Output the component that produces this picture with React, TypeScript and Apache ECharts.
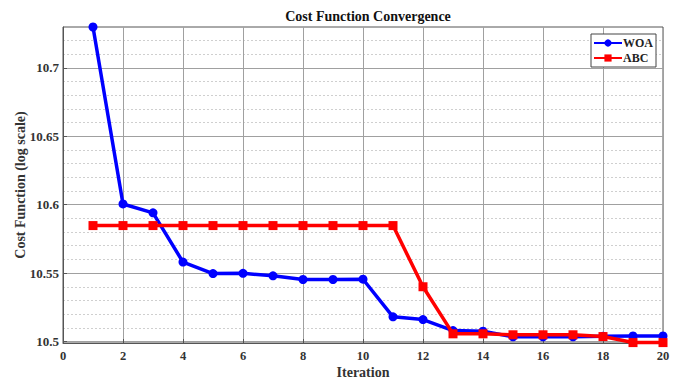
import React, { useEffect, useRef } from "react";
import * as echarts from "echarts";

const iterations = [1, 2, 3, 4, 5, 6, 7, 8, 9, 10, 11, 12, 13, 14, 15, 16, 17, 18, 19, 20];
const woaCost = [
  10.7298, 10.6005, 10.594, 10.558, 10.5496, 10.5498, 10.548, 10.5453, 10.5453, 10.5455,
  10.518, 10.516, 10.508, 10.5075, 10.5034, 10.5034, 10.5034, 10.5038, 10.504, 10.504,
];
const abcCost = [
  10.5847, 10.5847, 10.5847, 10.5847, 10.5847, 10.5847, 10.5847, 10.5847, 10.5847, 10.5847,
  10.5847, 10.54, 10.5056, 10.5056, 10.5049, 10.5049, 10.5049, 10.5036, 10.4992, 10.4992,
];
const yMajorTicks = [10.5, 10.55, 10.6, 10.65, 10.7];
const yMinorTicks = [
  10.51, 10.52, 10.53, 10.54, 10.56, 10.57, 10.58, 10.59, 10.61, 10.62, 10.63, 10.64,
  10.66, 10.67, 10.68, 10.69, 10.71, 10.72,
];
const yMin = 10.4989;
const yMax = 10.7298;

const FONT = "'Liberation Serif', 'Times New Roman', serif";

export default function App() {
  const ref = useRef<HTMLDivElement>(null);

  useEffect(() => {
    if (!ref.current) return;
    const chart = echarts.init(ref.current, undefined, { renderer: "svg" });
    const textBase = { fontFamily: FONT, fontWeight: "bold" as const, color: "#333" };

    chart.setOption({
      animation: false,
      backgroundColor: "#fff",
      title: {
        text: "Cost Function Convergence",
        left: 363,
        top: 4,
        textAlign: "center",
        textStyle: { ...textBase, fontSize: 14, color: "#111" },
      },
      legend: {
        orient: "vertical",
        left: 591,
        top: 34,
        itemWidth: 28,
        itemHeight: 9,
        itemGap: 3,
        padding: [3, 3, 3, 2],
        borderColor: "#444",
        borderWidth: 1,
        backgroundColor: "#fff",
        textStyle: { ...textBase, fontSize: 12, color: "#222", padding: [0, 0, 0, -4] },
        data: ["WOA", "ABC"],
      },
      grid: {
        left: 63,
        right: 16,
        top: 27,
        bottom: 38,
        outerBoundsMode: "none",
        show: true,
        borderColor: "#555",
        borderWidth: 1,
      },
      xAxis: {
        type: "value",
        min: 0,
        max: 20,
        interval: 2,
        name: "Iteration",
        nameLocation: "middle",
        nameGap: 22,
        nameMoveOverlap: false,
        nameTextStyle: { ...textBase, fontSize: 14 },
        axisLine: { lineStyle: { color: "#555" } },
        axisTick: { inside: true, length: 4, lineStyle: { color: "#555" } },
        axisLabel: { ...textBase, fontSize: 12.5, margin: 6 },
        splitLine: { show: true, lineStyle: { color: "#a0a0a0", width: 1 } },
      },
      yAxis: [
        {
          type: "value",
          min: yMin,
          max: yMax,
          name: "Cost Function (log scale)",
          nameLocation: "middle",
          nameRotate: 90,
          nameGap: 36,
          nameMoveOverlap: false,
          nameTextStyle: { ...textBase, fontSize: 14 },
          axisLine: { show: true, lineStyle: { color: "#555" } },
          axisTick: {
            show: true,
            inside: true,
            length: 4,
            customValues: yMajorTicks,
            lineStyle: { color: "#555" },
          },
          axisLabel: {
            ...textBase,
            fontSize: 13,
            margin: 4,
            customValues: yMajorTicks,
            formatter: (v: number) => String(Math.round(v * 100) / 100),
          },
          splitLine: { show: true, lineStyle: { color: "#a0a0a0", width: 1 } },
        },
        {
          type: "value",
          min: yMin,
          max: yMax,
          position: "left",
          axisLine: { show: false },
          axisTick: { show: false, customValues: yMinorTicks },
          axisLabel: { show: false, customValues: yMinorTicks },
          splitLine: { show: true, lineStyle: { color: "#cfcfcf", width: 1, type: [2, 2] } },
        },
      ],
      series: [
        {
          name: "WOA",
          type: "line",
          yAxisIndex: 0,
          data: iterations.map((it, i) => [it, woaCost[i]]),
          symbol: "circle",
          symbolSize: 9,
          clip: false,
          z: 3,
          itemStyle: { color: "#0000ff" },
          lineStyle: { color: "#0000ff", width: 3.5 },
        },
        {
          name: "ABC",
          type: "line",
          yAxisIndex: 0,
          data: iterations.map((it, i) => [it, abcCost[i]]),
          symbol: "rect",
          symbolSize: 9,
          clip: false,
          z: 4,
          itemStyle: { color: "#ff0000" },
          lineStyle: { color: "#ff0000", width: 3.5 },
        },
      ],
    });

    return () => chart.dispose();
  }, []);

  return <div ref={ref} style={{ width: 679, height: 381, position: "absolute", left: 0, top: 0 }} />;
}
